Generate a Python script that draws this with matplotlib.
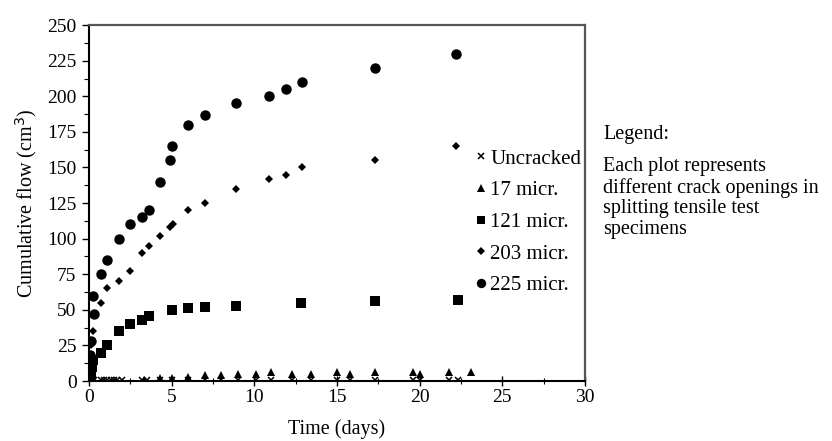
import matplotlib.pyplot as plt
import numpy as np

plt.rcParams['font.family'] = ['Liberation Serif', 'DejaVu Serif']

# Uncracked
unc_t = [0.05, 0.3, 0.7, 0.9, 1.1, 1.3, 1.5, 1.7, 2.0, 3.2, 3.5, 4.3, 5.0, 6.0, 7.0, 8.0,
         9.0, 10.1, 11.0, 12.3, 13.4, 15.0, 15.8, 17.3, 19.6, 20.0, 21.8, 22.3]
unc_q = [0, 0.5, 1, 1, 1, 1, 1, 1, 1, 1, 1, 1, 1, 1, 1, 1,
         1, 1, 1, 1, 1, 1, 1, 1, 1, 1, 1, 0.5]

# 17 micr.
m17_t = [0.1, 0.3, 3.3, 4.3, 5.0, 6.0, 7.0, 8.0, 9.0, 10.1, 11.0, 12.3, 13.4,
         15.0, 15.8, 17.3, 19.6, 20.0, 21.8, 23.1]
m17_q = [0, 1, 1, 2, 2, 3, 4, 4, 5, 5, 6, 5, 5, 6, 5, 6, 6, 5, 6, 6]

# 121 micr.
m121_t = [0.0, 0.1, 0.15, 0.25, 0.7, 1.1, 1.8, 2.5, 3.2, 3.6, 5.0, 6.0, 7.0, 8.9, 12.8, 17.3, 22.3]
m121_q = [0, 5, 10, 15, 20, 25, 35, 40, 43, 46, 50, 51, 52, 53, 55, 56, 57]

# 203 micr.
m203_t = [0.0, 0.05, 0.1, 0.22, 0.7, 1.1, 1.8, 2.5, 3.2, 3.6, 4.3, 4.9, 5.1, 6.0, 7.0, 8.9,
          10.9, 11.9, 12.9, 17.3, 22.2]
m203_q = [0, 15, 25, 35, 55, 65, 70, 77, 90, 95, 102, 108, 110, 120, 125, 135,
          142, 145, 150, 155, 165]

# 225 micr.
m225_t = [0.0, 0.02, 0.08, 0.12, 0.22, 0.3, 0.7, 1.1, 1.8, 2.5, 3.2, 3.6, 4.3, 4.9, 5.0,
          6.0, 7.0, 8.9, 10.9, 11.9, 12.9, 17.3, 22.2]
m225_q = [0, 5, 18, 28, 60, 47, 75, 85, 100, 110, 115, 120, 140, 155, 165,
          180, 187, 195, 200, 205, 210, 220, 230]

fig = plt.figure(figsize=(8.32, 4.41), dpi=100)
ax = fig.add_axes([0.107, 0.136, 0.596, 0.807])

ax.plot(unc_t, unc_q, 'x', color='black', ms=4.5, mew=1.1, label='Uncracked')
ax.plot(m17_t, m17_q, '^', color='black', ms=6, mew=0, label='17 micr.')
ax.plot(m121_t, m121_q, 's', color='black', ms=6.5, mew=0, label='121 micr.')
ax.plot(m203_t, m203_q, 'D', color='black', ms=4.5, mew=0, label='203 micr.')
ax.plot(m225_t, m225_q, 'o', color='black', ms=7.5, mew=0, label='225 micr.')

ax.set_xlim(0, 30)
ax.set_ylim(0, 250)
ax.set_xticks(np.arange(0, 31, 5))
ax.set_xticks(np.arange(0, 31, 2.5), minor=True)
ax.set_yticks(np.arange(0, 251, 25))
ax.set_yticks(np.arange(0, 251, 12.5), minor=True)
ax.tick_params(labelsize=14, length=5, width=1, color='black')
ax.tick_params(which='minor', length=3.5, width=0.8)
ax.tick_params(axis='y', pad=4)
ax.tick_params(axis='x', direction='inout', length=7, pad=2)
ax.tick_params(axis='x', which='minor', direction='inout', length=5)

for s in ['left', 'bottom']:
    ax.spines[s].set_linewidth(1.5)
    ax.spines[s].set_color('black')
for s in ['top', 'right']:
    ax.spines[s].set_linewidth(1.6)
    ax.spines[s].set_color('#555555')

ax.set_xlabel('Time (days)', fontsize=14.5, labelpad=10)
ax.set_ylabel('Cumulative flow (cm$^3$)', fontsize=14.5, labelpad=6)

ax.legend(loc='upper left', bbox_to_anchor=(0.778, 0.652), frameon=False, fontsize=15,
          handlelength=0.6, handletextpad=0.15, labelspacing=0.58, borderaxespad=0,
          borderpad=0, markerscale=0.9)

fig.text(0.725, 1 - 134 / 441, 'Legend:', fontsize=14.5, va='center')
fig.text(0.725, 1 - 157 / 441, 'Each plot represents\ndifferent crack openings in\nsplitting tensile test\nspecimens',
         fontsize=14.5, va='top', linespacing=1.12)

fig.savefig('out.png', dpi=100)
